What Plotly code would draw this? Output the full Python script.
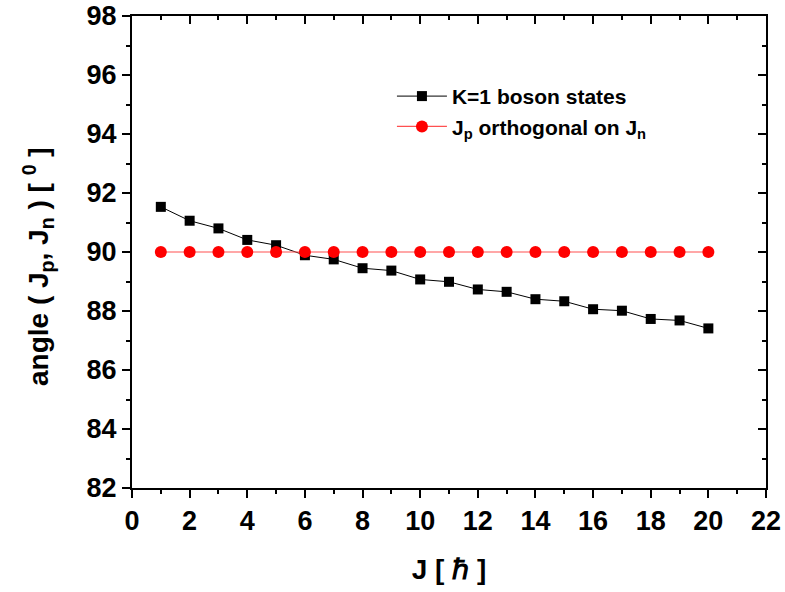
import plotly.graph_objects as go

J = list(range(1, 21))
angle_k1 = [91.53, 91.06, 90.80, 90.41, 90.23, 89.89, 89.75, 89.45, 89.37, 89.07,
            88.99, 88.73, 88.65, 88.40, 88.33, 88.06, 88.01, 87.73, 87.68, 87.41]
angle_orth = [90.0] * 20

FONT = "Liberation Sans"

fig = go.Figure()
fig.add_trace(go.Scatter(
    x=J, y=angle_k1, mode="lines+markers", name="K=1 boson states",
    line=dict(color="black", width=1),
    marker=dict(symbol="square", size=10, color="black"),
))
fig.add_trace(go.Scatter(
    x=J, y=angle_orth, mode="lines+markers", name="J<sub>p</sub> orthogonal on J<sub>n</sub>",
    line=dict(color="#ff5050", width=1.2),
    marker=dict(symbol="circle", size=12, color="#ff0000"),
))
# helper traces that activate the top and right axes (inward ticks)
fig.add_trace(go.Scatter(x=J, y=angle_orth, xaxis="x2", yaxis="y", mode="lines",
                         line=dict(width=0, color="rgba(0,0,0,0)"), showlegend=False, hoverinfo="skip"))
fig.add_trace(go.Scatter(x=J, y=angle_orth, xaxis="x", yaxis="y2", mode="lines",
                         line=dict(width=0, color="rgba(0,0,0,0)"), showlegend=False, hoverinfo="skip"))

tickfont = dict(family=FONT, size=27, color="black", weight="bold")
axcommon = dict(showline=True, linecolor="black", linewidth=2, showgrid=False, zeroline=False,
                tickwidth=2, tickcolor="black", automargin=False)

fig.update_layout(
    width=785, height=592,
    margin=dict(l=132, r=19, t=16, b=104),
    paper_bgcolor="white", plot_bgcolor="white",
    showlegend=True,
    legend=dict(x=0.41, y=0.873, xanchor="left", yanchor="top",
                font=dict(family=FONT, size=21, color="black", weight="bold"),
                bgcolor="rgba(0,0,0,0)", itemwidth=50, tracegroupgap=0),
    xaxis=dict(range=[0, 22], dtick=2, tick0=0, ticks="outside", ticklen=8,
               tickfont=tickfont, mirror=True,
               minor=dict(dtick=1, ticks="outside", ticklen=4, tickwidth=2, tickcolor="black"),
               title=dict(text="J [ ℏ ]", font=dict(family=FONT, size=28, color="black", weight="bold"),
                          standoff=24), **axcommon),
    yaxis=dict(range=[82, 98], dtick=2, tick0=82, ticks="outside", ticklen=8,
               tickfont=tickfont, mirror=True,
               minor=dict(dtick=1, ticks="outside", ticklen=4, tickwidth=2, tickcolor="black"),
               **axcommon),
    xaxis2=dict(range=[0, 22], dtick=2, tick0=0, overlaying="x", side="top",
                ticks="inside", ticklen=8, showticklabels=False,
                minor=dict(dtick=1, ticks="inside", ticklen=4, tickwidth=2, tickcolor="black"),
                **axcommon),
    yaxis2=dict(range=[82, 98], dtick=2, tick0=82, overlaying="y", side="right",
                ticks="inside", ticklen=8, showticklabels=False,
                minor=dict(dtick=1, ticks="inside", ticklen=4, tickwidth=2, tickcolor="black"),
                **axcommon),
    annotations=[dict(
        text="angle ( J<sub>p</sub>, J<sub>n</sub> ) [ <sup>0</sup> ]",
        textangle=-90, xref="paper", yref="paper",
        x=(38 - 132) / 634, y=1 - (267 - 16) / 472, xanchor="center", yanchor="middle",
        showarrow=False, font=dict(family=FONT, size=28, color="black", weight="bold"),
    )],
)

fig.write_html("out.html")
